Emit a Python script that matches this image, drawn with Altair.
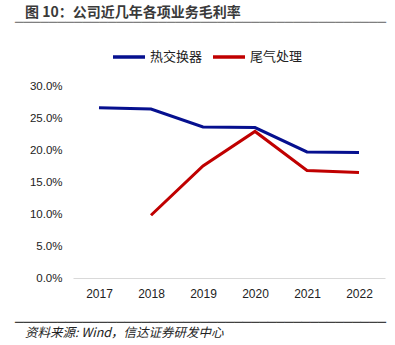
import altair as alt
import pandas as pd

years = ["2017", "2018", "2019", "2020", "2021", "2022"]
heat_exchanger = [0.266, 0.264, 0.236, 0.235, 0.197, 0.196]
exhaust_years = ["2018", "2019", "2020", "2021", "2022"]
exhaust = [0.098, 0.175, 0.229, 0.168, 0.165]
series_names = ["热交换器", "尾气处理"]
series_colors = ["#06108f", "#c00000"]
y_ticks = [0, 0.05, 0.10, 0.15, 0.20, 0.25, 0.30]

rows = [{"year": y, "value": v, "series": series_names[0]} for y, v in zip(years, heat_exchanger)]
rows += [{"year": y, "value": v, "series": series_names[1]} for y, v in zip(exhaust_years, exhaust)]
df = pd.DataFrame(rows)

FONT = "Noto Sans CJK SC"

lines = alt.Chart(df).mark_line(strokeWidth=3).encode(
    x=alt.X("year:O", sort=years, scale=alt.Scale(type="point", padding=0.5),
            axis=alt.Axis(title=None, labelAngle=0, ticks=False, labelFontSize=12,
                          labelColor="#222", labelPadding=10, domainColor="#d9d9d9",
                          labelFont="Liberation Sans")),
    y=alt.Y("value:Q", scale=alt.Scale(domain=[0, 0.30], nice=False),
            axis=alt.Axis(title=None, format=".1%", values=y_ticks, grid=False, domain=False,
                          ticks=False, labelFontSize=11.5, labelColor="#222", labelPadding=11,
                          labelFont="Liberation Sans")),
    color=alt.Color("series:N", sort=series_names,
                    scale=alt.Scale(domain=series_names, range=series_colors),
                    legend=alt.Legend(title=None, orient="none", direction="horizontal",
                                      legendX=38, legendY=-47, symbolType="stroke",
                                      symbolSize=1024, symbolStrokeWidth=3.5,
                                      labelFontSize=13, labelFont=FONT, labelColor="#222",
                                      labelOffset=3, columnPadding=3)),
)

title = alt.Chart(pd.DataFrame({"t": ["图 10：公司近几年各项业务毛利率"]})).mark_text(
    align="left", baseline="middle", fontSize=14, fontWeight="bold", font=FONT, color="#3a3a3a"
).encode(x=alt.value(-48), y=alt.value(-73), text="t:N")

footer = alt.Chart(pd.DataFrame({"t": ["资料来源: Wind，信达证券研发中心"]})).mark_text(
    align="left", baseline="middle", fontSize=12.5, fontStyle="italic", font=FONT, color="#222"
).encode(x=alt.value(-48), y=alt.value(247), text="t:N")

# separator lines (box-drawing characters, continuous in a monospace font)
sep_line = "\u2500" * 44
title_rule = alt.Chart(pd.DataFrame({"s": [sep_line]})).mark_text(
    align="left", baseline="middle", fontSize=14, font="DejaVu Sans Mono", color="#7f7f7f"
).encode(x=alt.value(-58), y=alt.value(-63), text="s:N")
footer_rule = alt.Chart(pd.DataFrame({"s": [sep_line + ""]})).mark_text(
    align="left", baseline="middle", fontSize=14, font="DejaVu Sans Mono", color="#404040"
).encode(x=alt.value(-58), y=alt.value(237), text="s:N")

chart = alt.layer(lines, title_rule, footer_rule, title, footer).properties(
    width=312, height=192,
    autosize=alt.AutoSizeParams(type="none"),
    padding={"left": 73, "top": 86, "right": 10, "bottom": 67},
).configure(background="white", view=alt.ViewConfig(stroke=None))

chart.save("out.html", embed_options={"renderer": "svg", "actions": False})
